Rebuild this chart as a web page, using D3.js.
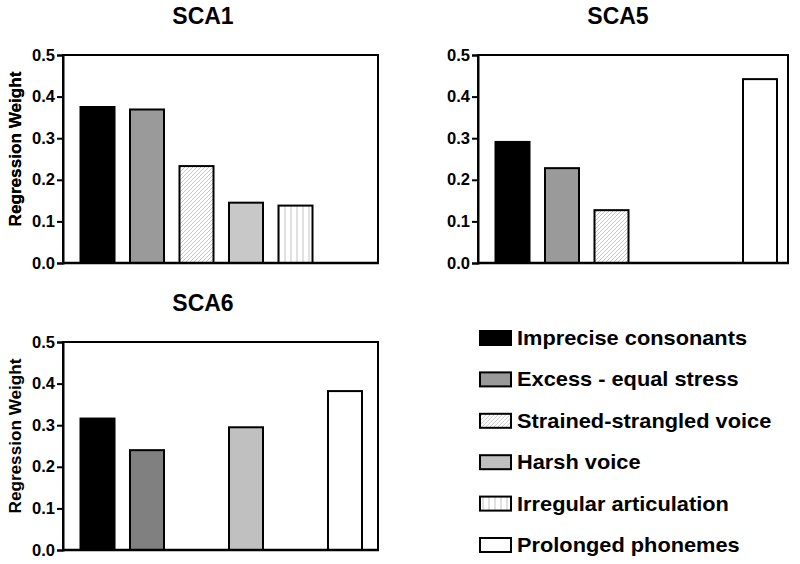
<!DOCTYPE html>
<html><head><meta charset="utf-8">
<script src="https://cdn.jsdelivr.net/npm/d3@7"></script>
<style>body{margin:0;background:#fff}svg{display:block}text{font-family:"Liberation Sans",Arial,sans-serif;font-weight:bold;fill:#000}</style>
</head><body><svg id="c" width="800" height="564"></svg>
<script>
const categories = ["Imprecise consonants","Excess - equal stress","Strained-strangled voice","Harsh voice","Irregular articulation","Prolonged phonemes"];
const sca1 = [0.375, 0.369, 0.233, 0.145, 0.138, null];
const sca5 = [0.291, 0.228, 0.127, null, null, 0.442];
const sca6 = [0.316, 0.240, null, 0.295, null, 0.382];
const yTicks = [0, 0.1, 0.2, 0.3, 0.4, 0.5];
const panelTitles = ["SCA1", "SCA5", "SCA6"];

const svg = d3.select("#c");
const defs = svg.append("defs");
const diag = defs.append("pattern").attr("id","diag").attr("patternUnits","userSpaceOnUse").attr("width",4).attr("height",4);
diag.append("rect").attr("width",4).attr("height",4).attr("fill","#fff");
diag.append("path").attr("d","M-1,1 L1,-1 M0,4 L4,0 M3,5 L5,3").attr("stroke","#b8b8b8").attr("stroke-width",0.8);
const vert = defs.append("pattern").attr("id","vert").attr("patternUnits","userSpaceOnUse").attr("width",6).attr("height",6);
vert.append("rect").attr("width",6).attr("height",6).attr("fill","#fff");
vert.append("path").attr("d","M3,0 L3,6").attr("stroke","#c4c4c4").attr("stroke-width",1);

const fillsDefault = ["#000","#9a9a9a","url(#diag)","#c8c8c8","url(#vert)","#fff"];
const fillsSca6 = ["#000","#808080","url(#diag)","#c0c0c0","url(#vert)","#fff"];

const panels = [
  {data: sca1, title: panelTitles[0], x0: 63, x1: 378, yTop: 55, yBot: 263, tx: 203, ty: 24, fills: fillsDefault},
  {data: sca5, title: panelTitles[1], x0: 478, x1: 788, yTop: 55, yBot: 263, tx: 618, ty: 24, fills: fillsDefault},
  {data: sca6, title: panelTitles[2], x0: 63, x1: 378, yTop: 342, yBot: 550, tx: 203, ty: 311, fills: fillsSca6}
];

panels.forEach(p => {
  const g = svg.append("g");
  const y = d3.scaleLinear().domain([0, 0.5]).range([p.yBot, p.yTop]);
  const x = d3.scaleBand().domain(categories).range([p.x0 + 17.5, p.x0 + 299]).paddingInner(0.313).paddingOuter(0);
  g.append("text").attr("x", p.tx).attr("y", p.ty).attr("text-anchor","middle").attr("font-size", 23).text(p.title);
  g.append("rect").attr("x", p.x0).attr("y", p.yTop).attr("width", p.x1 - p.x0).attr("height", p.yBot - p.yTop)
    .attr("fill","none").attr("stroke","#000").attr("stroke-width",2);
  const bars = categories.map((c, i) => ({c, v: p.data[i], f: p.fills[i]})).filter(d => d.v != null);
  g.selectAll("rect.bar").data(bars).join("rect").attr("class","bar")
    .attr("x", d => x(d.c)).attr("width", x.bandwidth())
    .attr("y", d => y(d.v)).attr("height", d => y(0) - y(d.v))
    .attr("fill", d => d.f).attr("stroke","#000").attr("stroke-width",2);
  const ax = g.append("g").attr("transform", `translate(${p.x0},0)`)
    .call(d3.axisLeft(y).tickValues(yTicks).tickFormat(d3.format(".1f")).tickSize(6).tickPadding(2));
  ax.attr("font-size", null).attr("font-family", null);
  ax.select(".domain").attr("stroke","#000").attr("stroke-width",2);
  ax.selectAll(".tick line").attr("stroke","#000").attr("stroke-width",2);
  ax.selectAll(".tick text").attr("font-size",16).attr("fill","#000")
    .attr("textLength", 23).attr("lengthAdjust","spacingAndGlyphs");
  g.append("text").attr("transform", `translate(21,${(p.yTop + p.yBot) / 2 - 10}) rotate(-90)`)
    .attr("text-anchor","middle").attr("font-size",16)
    .attr("textLength",155).attr("lengthAdjust","spacingAndGlyphs").text("Regression Weight");
  g.append("line").attr("x1", p.x0 - 1).attr("x2", p.x1 + 1).attr("y1", p.yBot).attr("y2", p.yBot).attr("stroke","#000").attr("stroke-width",2.5);
});

const legendFills = ["#000","#999","url(#diag)","#c0c0c0","url(#vert)","#fff"];
const lg = svg.append("g");
const ly = d3.scalePoint().domain(categories).range([338, 545]);
const items = lg.selectAll("g").data(categories).join("g").attr("transform", d => `translate(0,${ly(d)})`);
items.append("rect").attr("x", 480).attr("y", -7).attr("width", 31).attr("height", 14)
  .attr("fill", (d, i) => legendFills[i]).attr("stroke","#000").attr("stroke-width",2);
items.append("text").attr("transform","translate(517,7) scale(1.09,1)").attr("font-size", 20).text(d => d);
</script></body></html>
